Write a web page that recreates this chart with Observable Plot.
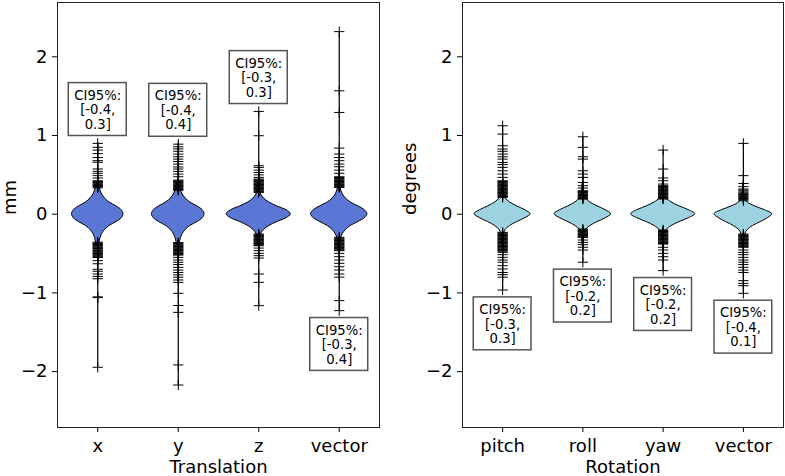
<!DOCTYPE html>
<html>
<head>
<meta charset="utf-8">
<script src="https://cdn.jsdelivr.net/npm/d3@7"></script>
<script src="https://cdn.jsdelivr.net/npm/@observablehq/plot@0.6"></script>
<style>
  html, body { margin: 0; padding: 0; background: #fff; }
  #chart { position: relative; width: 785px; height: 476px; font-family: "DejaVu Sans", sans-serif; }
  #chart svg { position: absolute; top: 0; }
</style>
</head>
<body>
<div id="chart"></div>
<script>
// ---- categories ----
const transCategories = ["x", "y", "z", "vector"];
const rotCategories = ["pitch", "roll", "yaw", "vector"];

// ---- 95% confidence intervals ----
const transCILow = [-0.4, -0.4, -0.3, -0.3];
const transCIHigh = [0.3, 0.4, 0.3, 0.4];
const rotCILow = [-0.3, -0.2, -0.2, -0.4];
const rotCIHigh = [0.3, 0.2, 0.2, 0.1];

// ---- values outside the violin body (drawn as "+") ----
const transX = [
  0.90, 0.85, 0.815, 0.77, 0.72, 0.68, 0.66, 0.575, 0.545, 0.52, 0.49, 0.46,
  0.425, 0.415, 0.405, 0.395, 0.385, 0.375, 0.365, 0.355, 0.345, 0.335,
  -0.355, -0.365, -0.375, -0.385, -0.395, -0.405, -0.415, -0.425, -0.435, -0.445,
  -0.46, -0.47, -0.48, -0.49, -0.50, -0.51, -0.52, -0.53, -0.54, -0.55,
  -0.59, -0.63, -0.70, -0.725, -0.76, -0.79, -0.82, -1.05, -1.06, -1.945
];
const transY = [
  0.89, 0.857, 0.83, 0.80, 0.764, 0.73, 0.70, 0.67, 0.637, 0.60, 0.574, 0.544, 0.51, 0.476,
  0.434, 0.424, 0.414, 0.404, 0.394, 0.384, 0.374, 0.364, 0.354, 0.344, 0.334, 0.324, 0.314, 0.304,
  -0.36, -0.37, -0.38, -0.39, -0.40, -0.41, -0.42, -0.43, -0.44, -0.45, -0.46, -0.47, -0.48, -0.49, -0.50, -0.51, -0.52,
  -0.548, -0.582, -0.61, -0.64, -0.675, -0.71, -0.74, -0.77, -0.80, -0.836, -0.866,
  -1.005, -1.16, -1.247, -1.915, -2.17
];
const transZ = [
  1.306, 0.997, 0.616, 0.595, 0.56, 0.53, 0.50, 0.468,
  0.447, 0.437, 0.427, 0.417, 0.407, 0.397, 0.387, 0.377, 0.367, 0.357, 0.347, 0.337, 0.327, 0.317, 0.307, 0.297, 0.287, 0.277,
  -0.252, -0.262, -0.272, -0.282, -0.292, -0.302, -0.312, -0.322, -0.332, -0.342, -0.352, -0.362, -0.372, -0.382, -0.392, -0.40,
  -0.43, -0.463, -0.497, -0.527, -0.557, -0.76, -0.866, -1.162
];
const transVector = [
  2.32, 1.568, 1.293, 0.84, 0.764, 0.72, 0.68, 0.637, 0.603, 0.56, 0.52, 0.476,
  0.466, 0.456, 0.446, 0.436, 0.426, 0.416, 0.406, 0.396, 0.386, 0.376, 0.366, 0.356, 0.346, 0.34,
  -0.294, -0.304, -0.314, -0.324, -0.334, -0.344, -0.354, -0.364, -0.374, -0.384, -0.394, -0.404,
  -0.414, -0.424, -0.434, -0.444, -0.454, -0.463,
  -0.497, -0.54, -0.582, -0.624, -0.667, -0.71, -0.76, -0.80, -1.098, -1.225
];
const rotPitch = [
  1.124, 1.018, 0.87, 0.828, 0.80, 0.764, 0.73, 0.70, 0.658, 0.63, 0.595, 0.552, 0.51, 0.468,
  0.425, 0.415, 0.405, 0.395, 0.385, 0.375, 0.365, 0.355, 0.345, 0.335, 0.325, 0.315, 0.305,
  0.295, 0.285, 0.275, 0.265, 0.255, 0.245, 0.235, 0.225, 0.214,
  -0.23, -0.24, -0.25, -0.26, -0.27, -0.28, -0.29, -0.30, -0.31, -0.32, -0.33, -0.34, -0.35,
  -0.36, -0.37, -0.38, -0.39, -0.40, -0.41, -0.42, -0.43, -0.44, -0.45, -0.46, -0.47, -0.485,
  -0.514, -0.548, -0.582, -0.61, -0.654, -0.696, -0.74, -0.768, -0.80, -0.963
];
const rotRoll = [
  0.984, 0.85, 0.73, 0.70, 0.552, 0.51, 0.468, 0.404, 0.362, 0.332,
  0.298, 0.288, 0.278, 0.268, 0.258, 0.248, 0.238, 0.228, 0.218, 0.208, 0.198, 0.193,
  -0.188, -0.198, -0.208, -0.218, -0.228, -0.238, -0.248, -0.258, -0.268, -0.278, -0.288, -0.294,
  -0.328, -0.358, -0.387, -0.42, -0.455, -0.61
];
const rotYaw = [
  0.815, 0.574, 0.46, 0.425, 0.383,
  0.362, 0.352, 0.342, 0.332, 0.322, 0.312, 0.302, 0.292, 0.282, 0.272, 0.262, 0.252, 0.242,
  0.232, 0.222, 0.212, 0.202, 0.193,
  -0.20, -0.21, -0.22, -0.23, -0.24, -0.25, -0.26, -0.27, -0.28, -0.29, -0.30, -0.31, -0.32,
  -0.33, -0.34, -0.35, -0.36, -0.37, -0.38,
  -0.42, -0.455, -0.497, -0.54, -0.582, -0.717
];
const rotVector = [
  0.90, 0.49, 0.39, 0.35,
  0.32, 0.307, 0.295, 0.28, 0.265, 0.25, 0.24, 0.225, 0.21, 0.20, 0.185, 0.17,
  -0.252, -0.262, -0.272, -0.282, -0.292, -0.302, -0.312, -0.322, -0.332, -0.342, -0.352, -0.362,
  -0.372, -0.382, -0.392, -0.402, -0.412, -0.42,
  -0.455, -0.485, -0.514, -0.548, -0.582, -0.61, -0.64, -0.675, -0.71, -0.74,
  -0.844, -0.878, -0.908, -1.005
];

// ---- violin body: half-width (in category units) at each level ----
const violinLevels = [-0.4, -0.35, -0.3, -0.25, -0.2, -0.15, -0.1, -0.05, 0, 0.05, 0.1, 0.15, 0.2, 0.25, 0.3, 0.35, 0.4];
const transWidthX      = [0.01, 0.022, 0.035, 0.055, 0.09, 0.145, 0.232, 0.298, 0.32, 0.298, 0.232, 0.145, 0.09, 0.055, 0.035, 0.022, 0.01];
const transWidthY      = [0.01, 0.022, 0.035, 0.056, 0.092, 0.148, 0.237, 0.304, 0.327, 0.304, 0.237, 0.148, 0.092, 0.056, 0.035, 0.022, 0.01];
const transWidthZ      = [0.008, 0.012, 0.016, 0.03, 0.065, 0.13, 0.23, 0.345, 0.40, 0.345, 0.23, 0.13, 0.065, 0.03, 0.016, 0.012, 0.008];
const transWidthVector = [0.007, 0.014, 0.025, 0.045, 0.083, 0.142, 0.236, 0.318, 0.35, 0.318, 0.236, 0.142, 0.083, 0.045, 0.025, 0.014, 0.007];
const rotWidthPitch    = [0.004, 0.007, 0.011, 0.018, 0.038, 0.092, 0.18, 0.283, 0.35, 0.283, 0.18, 0.092, 0.038, 0.018, 0.011, 0.007, 0.004];
const rotWidthRoll     = [0.004, 0.007, 0.011, 0.018, 0.038, 0.092, 0.182, 0.286, 0.353, 0.286, 0.182, 0.092, 0.038, 0.018, 0.011, 0.007, 0.004];
const rotWidthYaw      = [0.004, 0.008, 0.012, 0.02, 0.043, 0.105, 0.205, 0.323, 0.40, 0.323, 0.205, 0.105, 0.043, 0.02, 0.012, 0.008, 0.004];
const rotWidthVector   = [0.004, 0.007, 0.014, 0.025, 0.054, 0.119, 0.216, 0.306, 0.36, 0.27, 0.144, 0.054, 0.022, 0.011, 0.007, 0.005, 0.004];

const minus = d => (d < 0 ? "\u2212" + (-d) : String(d));

function panel({categories, values, widths, ciLow, ciHigh, ciSide, fill, xLabel, yLabel, yLabelOffset, width, marginLeft, marginRight}) {
  const violins = categories.flatMap((c, i) =>
    violinLevels.map((v, j) => ({cat: i, x: i + 1, y: v, w: widths[i][j]})));
  const points = categories.flatMap((c, i) => values[i].map(v => ({x: i + 1, y: v})));
  const whiskers = categories.map((c, i) => ({x: i + 1, lo: d3.min(values[i]), hi: d3.max(values[i])}));
  // CI note sits just beyond the end of the whisker, on the chosen side
  const notes = categories.map((c, i) => {
    const end = ciSide[i] > 0 ? whiskers[i].hi : whiskers[i].lo;
    return {x: i + 1, y: end + ciSide[i] * 0.43, text: `CI95%:\n[${ciLow[i]},\n${ciHigh[i]}]`};
  });
  return Plot.plot({
    width, height: 476,
    marginLeft, marginRight, marginTop: 2, marginBottom: 49,
    style: {fontFamily: "DejaVu Sans, sans-serif", fontSize: "18px", color: "black", background: "white", overflow: "visible"},
    x: {domain: [0.5, 4.5], ticks: [1, 2, 3, 4], tickFormat: d => categories[d - 1], tickSize: 5, tickPadding: 7, label: null},
    y: {domain: [-2.71, 2.69], ticks: [-2, -1, 0, 1, 2], tickFormat: minus, tickSize: 5, tickPadding: 5, label: null},
    marks: [
      Plot.ruleX(whiskers, {x: "x", y1: "lo", y2: "hi", stroke: "black", strokeWidth: 1.2}),
      Plot.areaX(violins, {
        y: "y", x1: d => d.x - d.w, x2: d => d.x + d.w, z: "cat",
        fill, stroke: "black", strokeWidth: 1, curve: "catmull-rom"
      }),
      Plot.dot(points, {x: "x", y: "y", symbol: "plus", r: 3.4, stroke: "black", strokeWidth: 1}),
      Plot.rect(notes, {
        x1: d => d.x - 0.36, x2: d => d.x + 0.36, y1: d => d.y - 0.336, y2: d => d.y + 0.336,
        fill: "white", stroke: "#555", strokeWidth: 1.5
      }),
      Plot.text(notes, {x: "x", y: "y", text: "text", fontSize: 13.2, lineHeight: 1.1, lineAnchor: "middle", fill: "black"}),
      Plot.frame({stroke: "#222", strokeWidth: 1}),
      Plot.text([yLabel], {frameAnchor: "left", dx: -yLabelOffset, rotate: -90, fontSize: 18, lineAnchor: "middle", fill: "black"}),
      Plot.text([xLabel], {frameAnchor: "bottom", dy: 40, fontSize: 18, lineAnchor: "middle", fill: "black"})
    ]
  });
}

const left = panel({
  categories: transCategories,
  values: [transX, transY, transZ, transVector],
  widths: [transWidthX, transWidthY, transWidthZ, transWidthVector],
  ciLow: transCILow, ciHigh: transCIHigh, ciSide: [1, 1, 1, -1],
  fill: "#5b77d5", xLabel: "Translation", yLabel: "mm", yLabelOffset: 47,
  width: 392, marginLeft: 57, marginRight: 13
});
const right = panel({
  categories: rotCategories,
  values: [rotPitch, rotRoll, rotYaw, rotVector],
  widths: [rotWidthPitch, rotWidthRoll, rotWidthYaw, rotWidthVector],
  ciLow: rotCILow, ciHigh: rotCIHigh, ciSide: [-1, -1, -1, -1],
  fill: "#9dd2e0", xLabel: "Rotation", yLabel: "degrees", yLabelOffset: 52,
  width: 393, marginLeft: 70, marginRight: 2
});
left.style.left = "0px";
right.style.left = "392px";
const chart = document.getElementById("chart");
chart.appendChild(left);
chart.appendChild(right);
</script>
</body>
</html>
